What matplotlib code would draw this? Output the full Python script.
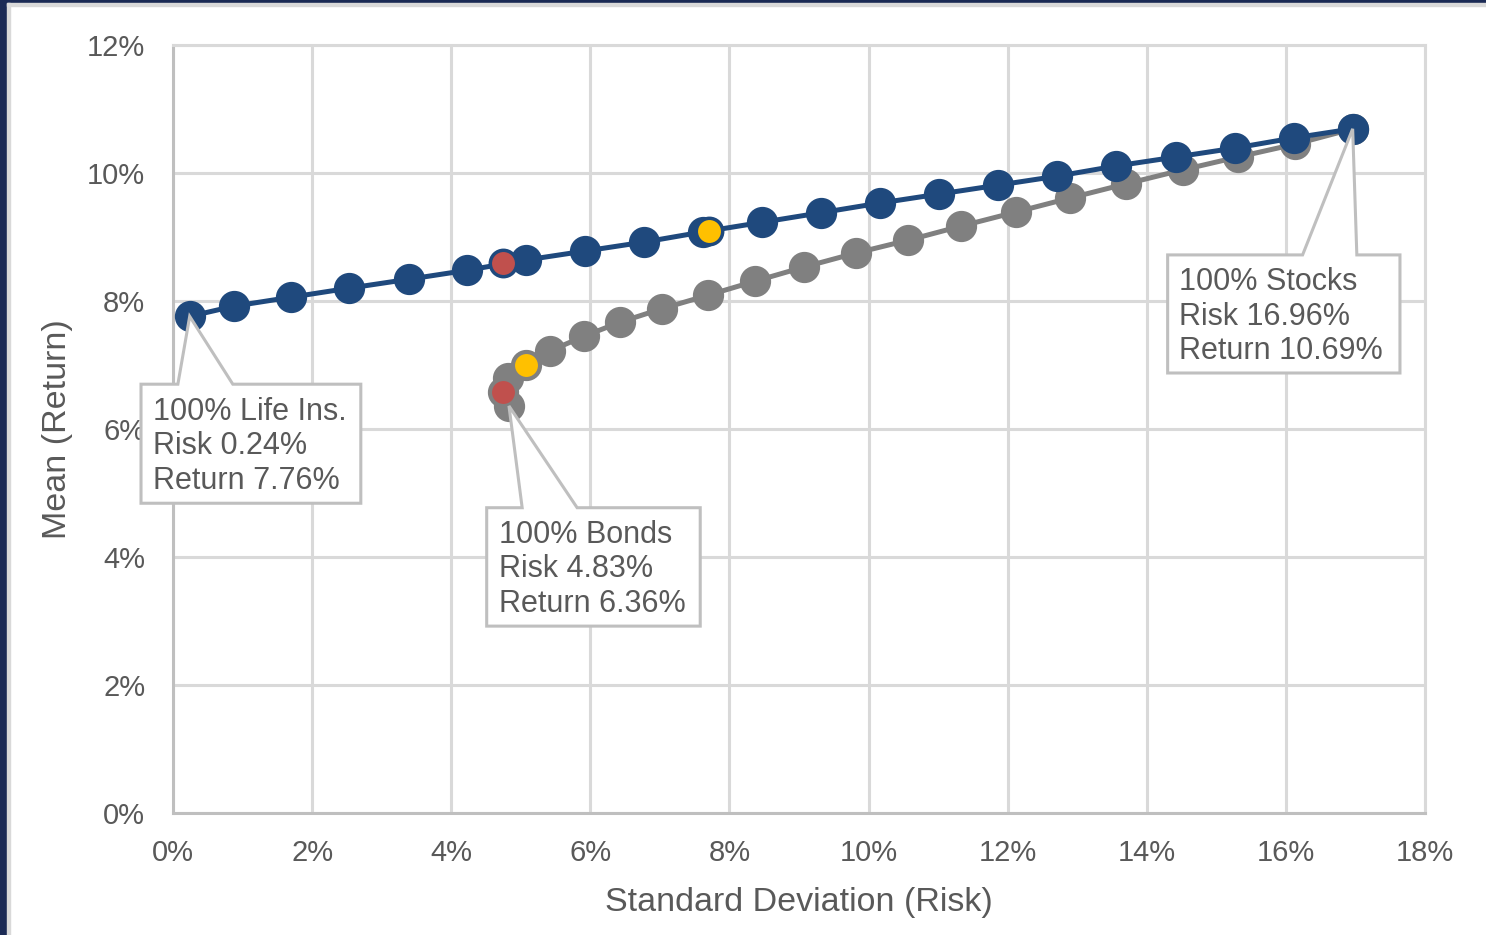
import numpy as np
import matplotlib.pyplot as plt
from matplotlib.patches import Polygon, Rectangle

plt.rcParams['font.family'] = ['Liberation Sans', 'DejaVu Sans']

# Stocks + life insurance portfolios (risk %, return %)
life_risk = [0.24, 0.88, 1.70, 2.53, 3.39, 4.23, 5.07, 5.92, 6.77, 7.62, 8.47,
             9.32, 10.16, 11.01, 11.86, 12.71, 13.56, 14.42, 15.27, 16.12, 16.96]
life_ret = [7.76, 7.92, 8.06, 8.20, 8.34, 8.48, 8.64, 8.78, 8.92, 9.08, 9.23,
            9.38, 9.53, 9.67, 9.81, 9.95, 10.11, 10.25, 10.39, 10.55, 10.69]

# Stocks + bonds portfolios (risk %, return %)
bond_risk = [4.83, 4.74, 4.82, 5.07, 5.42, 5.91, 6.43, 7.03, 7.69, 8.37, 9.07,
             9.82, 10.57, 11.33, 12.12, 12.90, 13.70, 14.52, 15.31, 16.13, 16.96]
bond_ret = [6.36, 6.58, 6.80, 7.00, 7.22, 7.45, 7.67, 7.88, 8.09, 8.31, 8.53,
            8.75, 8.95, 9.17, 9.39, 9.61, 9.83, 10.05, 10.25, 10.45, 10.69]

# highlighted portfolios: (risk, return) on each curve
red_life = (4.74, 8.59)
yellow_life = (7.71, 9.09)
red_bond = (4.74, 6.58)
yellow_bond = (5.07, 7.00)

callouts = [
    # title, risk, return, box (x0, x1, y0, y1), wedge base (xa, xb)
    ('100% Life Ins.', 0.24, 7.76, (-0.46, 2.70, 4.84, 6.70), (0.07, 0.86)),
    ('100% Bonds', 4.83, 6.36, (4.51, 7.58, 2.92, 4.77), (5.02, 5.81)),
    ('100% Stocks', 16.96, 10.69, (14.30, 17.64, 6.875, 8.72), (16.24, 17.02)),
]

BLUE = '#1F497D'
GRAY = '#808080'
RED = '#C0504D'
YELLOW = '#FFC000'
TXT = '#595959'

fig = plt.figure(figsize=(14.86, 9.35), dpi=100)

# dark frame along the top and left edges
fig.patches.append(Rectangle((0, 1 - 3 / 935), 1, 3 / 935, transform=fig.transFigure,
                             color='#1B2A55', zorder=0))
fig.patches.append(Rectangle((0, 0), 7 / 1486, 1, transform=fig.transFigure,
                             color='#1B2A55', zorder=0))
fig.patches.append(Rectangle((7 / 1486, 1 - 6 / 935), 1, 3 / 935, transform=fig.transFigure,
                             color='#D9D9D9', zorder=0))
fig.patches.append(Rectangle((7 / 1486, 0), 3 / 1486, 1 - 3 / 935, transform=fig.transFigure,
                             color='#D9D9D9', zorder=0))

ax = fig.add_axes([173 / 1486, 1 - 813 / 935, 1252 / 1486, 768 / 935])
ax.set_xlim(0, 18)
ax.set_ylim(0, 12)
ax.set_xticks(np.arange(0, 19, 2))
ax.set_yticks(np.arange(0, 13, 2))
ax.xaxis.set_major_formatter(lambda v, p: f'{v:.0f}%')
ax.yaxis.set_major_formatter(lambda v, p: f'{v:.0f}%')
ax.grid(True, color='#D9D9D9', linewidth=2.2, zorder=0)
ax.set_axisbelow(True)
for side in ['top', 'right']:
    ax.spines[side].set_color('#D9D9D9')
    ax.spines[side].set_linewidth(2.2)
for side in ['left', 'bottom']:
    ax.spines[side].set_color('#BFBFBF')
    ax.spines[side].set_linewidth(2.2)
ax.tick_params(axis='both', length=0, labelsize=21, labelcolor=TXT)
ax.tick_params(axis='y', pad=20)
ax.tick_params(axis='x', pad=19)

ax.set_xlabel('Standard Deviation (Risk)', fontsize=24.5, color=TXT)
ax.set_ylabel('Mean (Return)', fontsize=24.5, color=TXT)
ax.xaxis.set_label_coords(0.5, -0.097)
ax.yaxis.set_label_coords(-0.080, 0.5)

ax.plot(bond_risk, bond_ret, color=GRAY, lw=3.6, marker='o', ms=21.5,
        mec=GRAY, zorder=3, clip_on=False)
ax.plot(life_risk, life_ret, color=BLUE, lw=3.6, marker='o', ms=21.5,
        mec=BLUE, zorder=4, clip_on=False)

for pt, fc, ec in [(red_bond, RED, GRAY), (yellow_bond, YELLOW, GRAY),
                   (red_life, RED, BLUE), (yellow_life, YELLOW, BLUE)]:
    ax.plot([pt[0]], [pt[1]], marker='o', ms=19, mfc=fc, mec=ec, mew=2.5,
            ls='none', zorder=5)

for title, risk, ret, (x0, x1, y0, y1), (xa, xb) in callouts:
    outline = [(x0, y1), (xa, y1), (risk, ret), (xb, y1), (x1, y1), (x1, y0), (x0, y0)]
    ax.add_patch(Polygon(outline, closed=True, facecolor='white', edgecolor='#BFBFBF',
                         lw=2.2, zorder=6, clip_on=False))
    ax.text(x0 + 0.17, (y0 + y1) / 2 - 0.04, f'{title}\nRisk {risk:.2f}%\nReturn {ret:.2f}%',
            fontsize=22, color=TXT, ha='left', va='center', linespacing=1.19,
            zorder=7, clip_on=False)

fig.savefig('out.png', dpi=100)
